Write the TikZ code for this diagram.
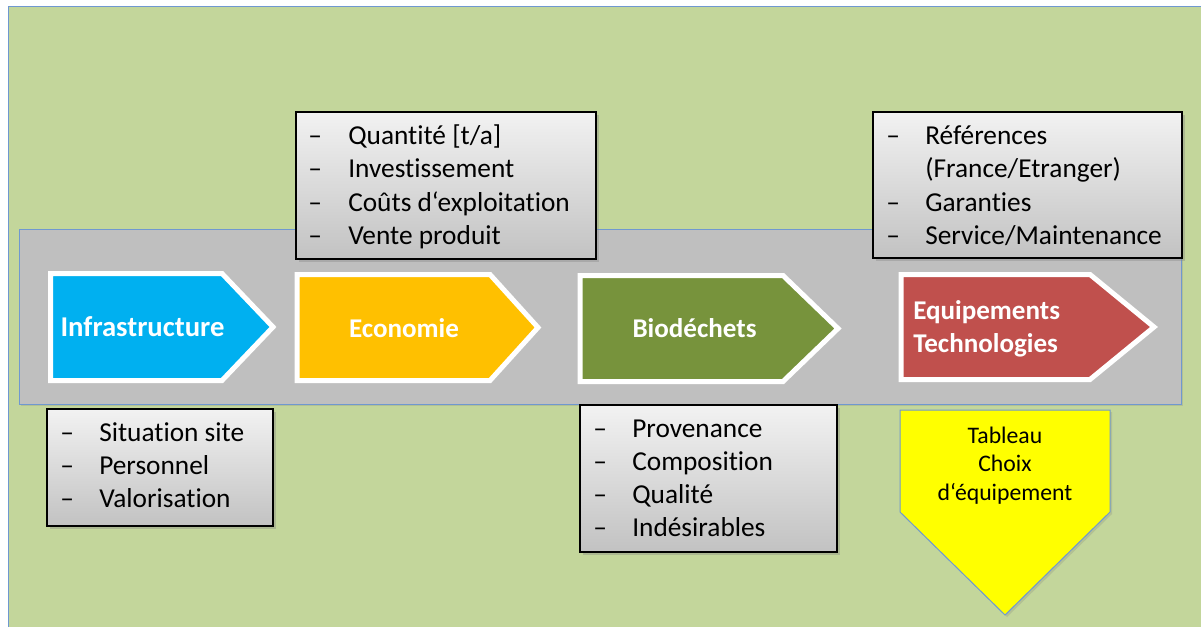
\documentclass[tikz,border=0pt]{standalone}
\usepackage{fontspec}
\setmainfont{Carlito}[RawFeature={-liga}]
\usetikzlibrary{shadows}

\definecolor{bgGreen}{HTML}{C3D69B}
\definecolor{frameBlue}{HTML}{6F98D0}
\definecolor{bandGray}{HTML}{BFBFBF}
\definecolor{infraBlue}{HTML}{00B0F0}
\definecolor{ecoOrange}{HTML}{FFC000}
\definecolor{bioGreen}{HTML}{77933C}
\definecolor{equipRed}{HTML}{C0504D}
\definecolor{boxTop}{HTML}{F2F2F2}
\definecolor{boxBottom}{HTML}{C2C2C2}
\definecolor{choiceYellow}{HTML}{FFFF00}

\tikzset{
  chevron/.style={fill=#1, draw=white, line width=3.75pt, line join=miter},
  listbox/.style={draw=black, line width=1.1pt, top color=boxTop, bottom color=boxBottom,
    drop shadow={opacity=0.35, shadow xshift=2pt, shadow yshift=-2pt}},
  listtext/.style={anchor=base west, inner sep=0pt, font=\fontsize{20.5}{25}\selectfont},
  steplabel/.style={text=white, anchor=base, inner sep=0pt, font=\bfseries\fontsize{20.3}{24.75}\selectfont},
  choicetext/.style={anchor=base, inner sep=0pt, font=\fontsize{17.8}{21.4}\selectfont},
}

\begin{document}
\begin{tikzpicture}[x=0.75pt, y=-0.75pt]
  %%%%% FRAME %%%%%
  \useasboundingbox (0,0) rectangle (1201,627);
  \fill[white] (0,0) rectangle (1201,627);
  \draw[fill=bgGreen, draw=frameBlue, line width=0.75pt] (8,7) rectangle (1210,640);

  % gray band
  \draw[fill=bandGray, draw=frameBlue, line width=0.75pt,
    drop shadow={opacity=0.25, shadow xshift=1.5pt, shadow yshift=-1.5pt}] (19,229) rectangle (1181,404);

  %%%%% CHEVRONS %%%%%
  \draw[chevron=infraBlue] (50.5,273.5) -- (222,273.5) -- (273,327) -- (222,380.5) -- (50.5,380.5) -- cycle;
  \draw[chevron=ecoOrange] (297,274.5) -- (490,274.5) -- (538,327.5) -- (490,380.5) -- (297,380.5) -- cycle;
  \draw[chevron=bioGreen] (580,275.5) -- (783,275.5) -- (838,328.5) -- (783,381.5) -- (580,381.5) -- cycle;
  \draw[chevron=equipRed] (901,274.5) -- (1090,274.5) -- (1154,327) -- (1090,379.5) -- (901,379.5) -- cycle;

  \node[steplabel, font=\bfseries\fontsize{21.5}{24.75}\selectfont] (infra) at (142.5,336) {Infrastructure};
  \node[steplabel] (eco) at (404,337) {Economie};
  \node[steplabel] (bio) at (694.5,337) {Biodéchets};
  \node[steplabel, anchor=base west] (equip) at (913,319) {Equipements};
  \node[steplabel, anchor=base west] (techno) at (913,352) {Technologies};

  %%%%% LIST BOXES %%%%%
  \draw[listbox] (47,409) rectangle (273,526);
  \foreach \entry [count=\i] in {Situation site, Personnel, Valorisation} {
    \node[listtext] (site-dash-\i) at (60,{441+33*(\i-1)}) {–};
    \node[listtext] (site-\i) at (99,{441+33*(\i-1)}) {\entry};
  }

  \draw[listbox] (296,112) rectangle (596,259);
  \foreach \entry [count=\i] in {{Quantité [t/a]}, Investissement, {Coûts d‘exploitation}, {Vente produit}} {
    \node[listtext] (cost-dash-\i) at (308,{145+33*(\i-1)}) {–};
    \node[listtext] (cost-\i) at (348,{145+33*(\i-1)}) {\entry};
  }

  \draw[listbox] (580,405) rectangle (837,552);
  \foreach \entry [count=\i] in {Provenance, Composition, Qualité, Indésirables} {
    \node[listtext] (waste-dash-\i) at (593,{437+33.3*(\i-1)}) {–};
    \node[listtext] (waste-\i) at (632,{437+33.3*(\i-1)}) {\entry};
  }

  \draw[listbox] (873,112) rectangle (1182,258);
  \node[listtext] (ref-dash) at (886,145) {–};
  \node[listtext] (ref) at (925,145) {Références};
  \node[listtext] (ref-country) at (925,178) {(France/Etranger)};
  \node[listtext] (warranty-dash) at (886,211) {–};
  \node[listtext] (warranty) at (925,211) {Garanties};
  \node[listtext] (service-dash) at (886,244) {–};
  \node[listtext] (service) at (925,244) {Service/Maintenance};

  %%%%% RESULT ARROW %%%%%
  \draw[fill=choiceYellow, draw=frameBlue, line width=0.75pt,
    drop shadow={opacity=0.25, shadow xshift=1.5pt, shadow yshift=-1.5pt}]
    (900,410) -- (1110,410) -- (1110,512) -- (1005,615) -- (900,512) -- cycle;
  \node[choicetext] (table) at (1005,443) {Tableau};
  \node[choicetext] (choice) at (1005,471.5) {Choix};
  \node[choicetext] (equipment) at (1005,500) {d‘équipement};
\end{tikzpicture}
\end{document}
